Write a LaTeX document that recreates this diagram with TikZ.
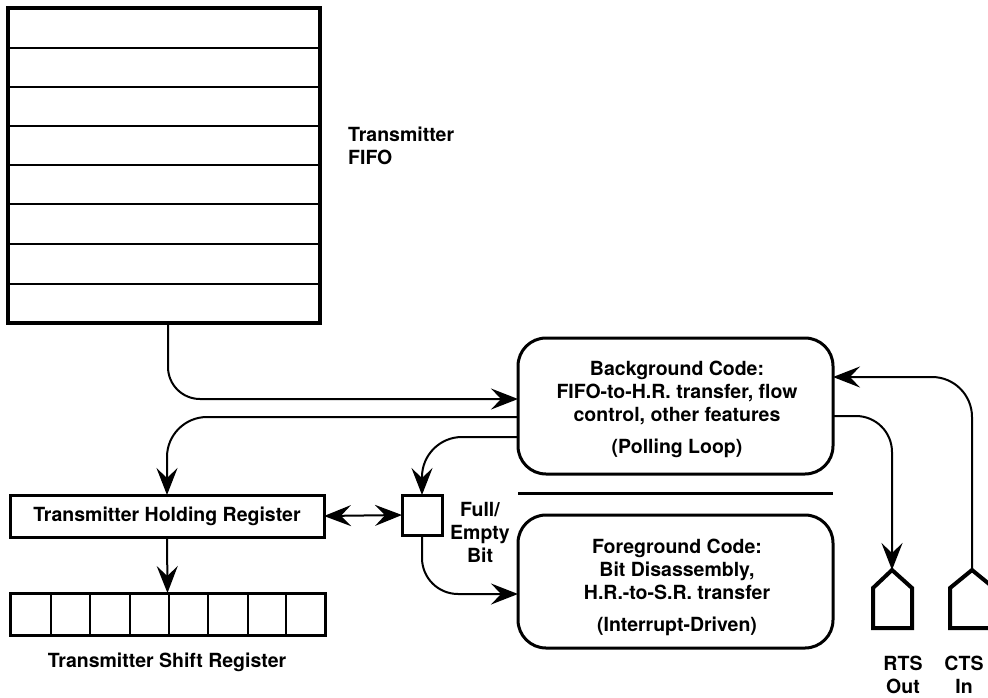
\documentclass[tikz,border=0pt]{standalone}
\usepackage{fontspec}
\setmainfont{TeX Gyre Heros}
\usetikzlibrary{arrows.meta,calc}
\begin{document}
\begin{tikzpicture}[x=1pt,y=-1pt,
  font=\fontsize{19.5}{23}\selectfont\bfseries,
  arr/.style={-{Stealth[length=27pt,width=21pt,inset=10pt]}, line width=2pt},
  dblarr/.style={{Stealth[length=27pt,width=21pt,inset=10pt]}-{Stealth[length=27pt,width=21pt,inset=10pt]}, line width=2pt},
  box/.style={draw, line width=3pt, inner sep=0pt, outer sep=0pt},
  rbox/.style={box, rounded corners=28pt},
  thinline/.style={line width=2pt},
  house/.style={draw, line width=4pt, line join=miter},
  lbl/.style={align=center, inner sep=0pt}]
\useasboundingbox (0,0) rectangle (988,697);

% Transmitter FIFO
\node[box, line width=4pt, minimum width=312pt, minimum height=315pt] (fifo) at (164,165.5) {};
\foreach \yy in {48,87,126,165,204,244,284}
  \draw[thinline] (8,\yy) -- (320,\yy);
\node[lbl, align=left, anchor=west] (fifolbl) at (348,146) {Transmitter\\FIFO};

% Transmitter Holding Register
\node[box, minimum width=314pt, minimum height=42pt] (thr) at (167,516) {Transmitter Holding Register};

% Transmitter Shift Register
\node[box, minimum width=315pt, minimum height=42pt] (tsr) at (167.5,614) {};
\foreach \xx in {51,90,130,169,208,248,286}
  \draw[thinline] (\xx,593) -- (\xx,635);
\node[lbl] (tsrlbl) at (167,662) {Transmitter Shift Register};

% Full/Empty bit
\node[box, minimum width=40pt, minimum height=40pt] (fe) at (422,515) {};
\node[lbl] (felbl) at (480,532) {Full/\\Empty\\Bit};

% Background code
\node[rbox, minimum width=315pt, minimum height=136pt] (bg) at (675.5,406) {};
\node[lbl] (bgt) at (677,409) {Background Code:\\FIFO-to-H.R. transfer, flow\\control, other features\\[9pt](Polling Loop)};

% separator
\draw[line width=3pt] (518,493) -- (833,493);

% Foreground code
\node[rbox, minimum width=315pt, minimum height=133pt] (fg) at (675.5,581.5) {};
\node[lbl] (fgt) at (677,587) {Foreground Code:\\Bit Disassembly,\\H.R.-to-S.R. transfer\\[9pt](Interrupt-Driven)};

% RTS / CTS connectors (house shapes)
\coordinate (rtstip) at (892,570);
\coordinate (ctstip) at (972,570);
\draw[house] (873,628) -- (873,588) -- (rtstip) -- (912,588) -- (912,628) -- cycle;
\draw[house] (950,628) -- (950,588) -- (ctstip) -- (994,588) -- (994,628) -- cycle;
\node[lbl] (rtslbl) at (903,675) {RTS\\Out};
\node[lbl] (ctslbl) at (964,675) {CTS\\In};

% connectors
\draw[arr, rounded corners=32pt] ([xshift=4pt]fifo.south) |- ([yshift=7pt]bg.west);
\draw[arr, rounded corners=40pt] ([yshift=-11pt]bg.west) -| (thr.north);
\draw[arr, rounded corners=40pt] ([yshift=-31pt]bg.west) -| (fe.north);
\draw[arr, rounded corners=36pt] (fe.south) |- ([yshift=-12.5pt]fg.west);
\draw[dblarr] (thr.east) -- (fe.west);
\draw[arr] (thr.south) -- (tsr.north);
\draw[arr, rounded corners=36pt] ([yshift=-10pt]bg.east) -| (rtstip);
\draw[arr, rounded corners=40pt] (ctstip) |- ([yshift=29pt]bg.east);
\end{tikzpicture}
\end{document}
